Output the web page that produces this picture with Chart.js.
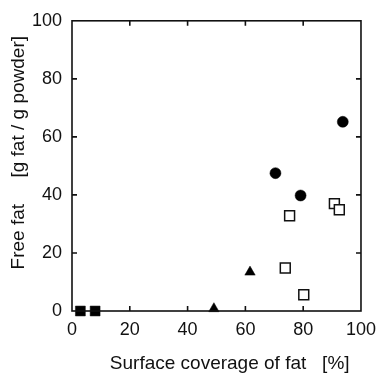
<!DOCTYPE html>
<html>
<head>
<meta charset="utf-8">
<script src="https://cdn.jsdelivr.net/npm/chart.js@4"></script>
<style>
  html, body { margin: 0; padding: 0; background: #fff; }
  #wrap { width: 384px; height: 375px; }
</style>
</head>
<body>
<div id="wrap"><canvas id="c" width="384" height="375"></canvas></div>
<script>
// series: [surface coverage %, free fat]
var filledCircles = [[70.4, 47.5], [79.1, 39.8], [93.7, 65.2]];
var openSquares = [[75.3, 32.8], [90.8, 37.0], [92.5, 34.9], [73.8, 14.8], [80.2, 5.6]];
var filledTriangles = [[61.6, 13.4], [49.1, 0.8]];
var filledSquares = [[2.9, 0], [8.0, 0]];
var tickValues = [0, 20, 40, 60, 80, 100];

var FONT = "'Liberation Sans', Arial, Helvetica, sans-serif";

function pts(arr) {
    return arr.map(function (p) { return { x: p[0], y: p[1] }; });
}

// frame box with inward ticks on all four sides
var frameTicks = {
    id: 'frameTicks',
    afterDatasetsDraw: function (chart) {
        var ctx = chart.ctx, a = chart.chartArea;
        var sx = chart.scales.x, sy = chart.scales.y;
        var len = 5;
        ctx.save();
        ctx.strokeStyle = '#111';
        ctx.lineWidth = 1.6;
        ctx.strokeRect(a.left, a.top, a.right - a.left, a.bottom - a.top);
        tickValues.forEach(function (v) {
            if (v === 0 || v === 100) return;
            var px = sx.getPixelForValue(v);
            var py = sy.getPixelForValue(v);
            ctx.beginPath();
            ctx.moveTo(px, a.bottom); ctx.lineTo(px, a.bottom - len);
            ctx.moveTo(px, a.top); ctx.lineTo(px, a.top + len);
            ctx.moveTo(a.left, py); ctx.lineTo(a.left + len, py);
            ctx.moveTo(a.right, py); ctx.lineTo(a.right - len, py);
            ctx.stroke();
        });
        ctx.restore();
    }
};

new Chart(document.getElementById('c').getContext('2d'), {
    type: 'scatter',
    data: {
        datasets: [
            {
                data: pts(filledCircles), pointStyle: 'circle', pointRadius: 5.5,
                backgroundColor: '#000', borderColor: '#000', borderWidth: 0.5, clip: false
            },
            {
                data: pts(openSquares), pointStyle: 'rect', pointRadius: 7,
                backgroundColor: '#fff', borderColor: '#111', borderWidth: 1.5, clip: false
            },
            {
                data: pts(filledTriangles), pointStyle: 'triangle', pointRadius: 6,
                backgroundColor: '#000', borderColor: '#000', borderWidth: 0.5, clip: false
            },
            {
                data: pts(filledSquares), pointStyle: 'rect', pointRadius: 7,
                backgroundColor: '#000', borderColor: '#000', borderWidth: 0.5, clip: false
            }
        ]
    },
    options: {
        responsive: false,
        animation: false,
        events: [],
        layout: { padding: { left: 7, top: 18, right: 16, bottom: 0 } },
        plugins: { legend: { display: false }, tooltip: { enabled: false } },
        scales: {
            x: {
                type: 'linear', min: 0, max: 100,
                afterBuildTicks: function (s) { s.ticks = tickValues.map(function (v) { return { value: v }; }); },
                afterFit: function (s) { s.height = 64; },
                grid: { display: false, drawTicks: false },
                border: { display: false },
                ticks: { color: '#111', padding: 8, font: { family: FONT, size: 18 } },
                title: {
                    display: true, text: '     Surface coverage of fat   [%]', color: '#111',
                    font: { family: FONT, size: 19 }, padding: { top: 15, bottom: 0 }
                }
            },
            y: {
                type: 'linear', min: 0, max: 100,
                afterBuildTicks: function (s) { s.ticks = tickValues.map(function (v) { return { value: v }; }); },
                afterFit: function (s) { s.width = 65; },
                grid: { display: false, drawTicks: false },
                border: { display: false },
                ticks: { color: '#111', padding: 10, font: { family: FONT, size: 18 } },
                title: {
                    display: true, text: '     Free fat     [g fat / g powder]', color: '#111',
                    font: { family: FONT, size: 19 }, padding: { top: 0, bottom: 0 }
                }
            }
        }
    },
    plugins: [frameTicks]
});
</script>
</body>
</html>
